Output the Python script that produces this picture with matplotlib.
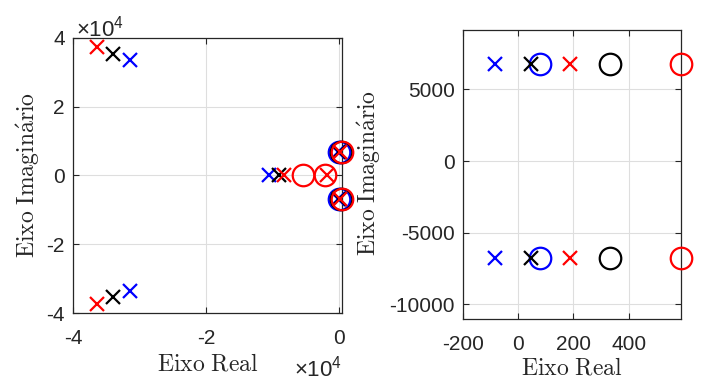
import matplotlib
matplotlib.use("Agg")
import matplotlib.pyplot as plt
import numpy as np

# ---------------- data (real, imag) ----------------
blue_poles_re = [-31440, -31440, -10415, -85, -85]
blue_poles_im = [33440, -33440, 0, 6790, -6790]
blue_zeros_re = [78, 78]
blue_zeros_im = [6790, -6790]

black_poles_re = [-34070, -34070, -9010, 48, 48]
black_poles_im = [35400, -35400, 0, 6790, -6790]
black_zeros_re = [333, 333]
black_zeros_im = [6790, -6790]

red_poles_re = [-36420, -36420, -8150, -1800, 187, 187]
red_poles_im = [37200, -37200, 0, 0, 6790, -6790]
red_zeros_re = [-5390, -2010, 590, 590]
red_zeros_im = [0, 0, 6790, -6790]

left_xticks = [-40000, -20000, 0]
left_xticklabels = ["-4", "-2", "0"]
left_yticks = [-40000, -20000, 0, 20000, 40000]
left_yticklabels = ["-4", "-2", "0", "2", "4"]
right_xticks = [-200, 0, 200, 400]
right_yticks = [-10000, -5000, 0, 5000]
multiplier = r"$\times\mathregular{10^{4}}$"

plt.rcParams['mathtext.fontset'] = 'custom'
plt.rcParams['mathtext.rm'] = 'Liberation Sans'
plt.rcParams['mathtext.it'] = 'Liberation Sans:italic'
plt.rcParams['font.family'] = 'Liberation Sans'
plt.rcParams['axes.unicode_minus'] = False

DARK = (0.15, 0.15, 0.15)
GRID = (0.87, 0.87, 0.87)
TICKFS = 15
LABFS = 17

fig = plt.figure(figsize=(7.13, 3.83), dpi=100)
axL = fig.add_axes([0.1028, 0.182, 0.3775, 0.7196])
axR = fig.add_axes([0.6494, 0.1663, 0.3058, 0.7553])

series = [
    ("blue", blue_poles_re, blue_poles_im, blue_zeros_re, blue_zeros_im),
    ("black", black_poles_re, black_poles_im, black_zeros_re, black_zeros_im),
    ("red", red_poles_re, red_poles_im, red_zeros_re, red_zeros_im),
]

axL.set_xlim(-40000, 590)
axL.set_ylim(-40000, 40000)
axR.set_xlim(-200, 590)
axR.set_ylim(-11040, 9135)


def visible(ax, xs, ys):
    x0, x1 = ax.get_xlim()
    y0, y1 = ax.get_ylim()
    xs = np.asarray(xs, float)
    ys = np.asarray(ys, float)
    m = (xs >= x0) & (xs <= x1) & (ys >= y0) & (ys <= y1)
    return xs[m], ys[m]


for ax in (axL, axR):
    for col, pr, pi, zr, zi in series:
        px, py = visible(ax, pr, pi)
        zx, zy = visible(ax, zr, zi)
        ax.plot(px, py, linestyle='none', marker='x', color=col,
                markersize=10, markeredgewidth=1.6, clip_on=False, zorder=3)
        ax.plot(zx, zy, linestyle='none', marker='o', markerfacecolor='none',
                markeredgecolor=col, markersize=15.5, markeredgewidth=1.6,
                clip_on=False, zorder=3)
    ax.grid(True, color=GRID, linewidth=0.8)
    ax.set_axisbelow(True)
    ax.tick_params(direction='in', top=True, right=True, length=4,
                   width=0.8, colors=DARK, labelsize=TICKFS)
    ax.tick_params(axis='x', pad=11)
    ax.tick_params(axis='y', pad=6)
    for sp in ax.spines.values():
        sp.set_color(DARK)
        sp.set_linewidth(0.9)

axL.set_xticks(left_xticks)
axL.set_xticklabels(left_xticklabels)
axL.set_yticks(left_yticks)
axL.set_yticklabels(left_yticklabels)

axR.set_xticks(right_xticks)
axR.set_xticklabels([str(v) for v in right_xticks])
axR.set_yticks(right_yticks)
axR.set_yticklabels([str(v) for v in right_yticks])

for ax, xl, yl in ((axL, (0.5, -0.146), (-0.117, 0.5)),
                   (axR, (0.4986, -0.132), (-0.367, 0.506))):
    ax.set_xlabel(r"$\mathrm{Eixo\ Real}$", fontsize=LABFS, color=DARK,
                  math_fontfamily='cm')
    ax.set_ylabel(r"$\mathrm{Eixo\ Imagin\'{a}rio}$", fontsize=LABFS,
                  color=DARK, math_fontfamily='cm')
    ax.xaxis.set_label_coords(*xl)
    ax.yaxis.set_label_coords(*yl)

fig.text(76 / 713, 1 - 36 / 383, multiplier, fontsize=16, color=DARK,
         ha='left', va='baseline')
fig.text(342 / 713, 1 - 377 / 383, multiplier, fontsize=16, color=DARK,
         ha='right', va='baseline')

fig.savefig("out.png", dpi=100)
